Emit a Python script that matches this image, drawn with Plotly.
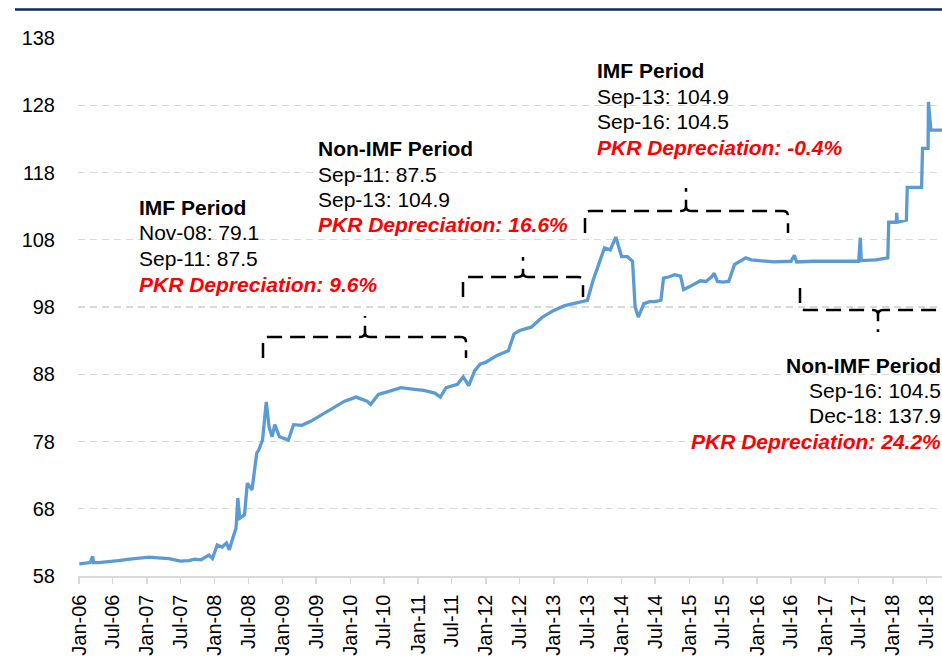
import plotly.graph_objects as go

# ---------------- data ----------------
dates = [
    "2006-01-02", "2006-02-01", "2006-03-01", "2006-03-15", "2006-03-20", "2006-04-15",
    "2006-06-01", "2006-08-01", "2006-10-01", "2006-12-01", "2007-01-15", "2007-03-01",
    "2007-05-01", "2007-07-01", "2007-08-15", "2007-09-15", "2007-10-20", "2007-12-01",
    "2007-12-20", "2008-01-15", "2008-02-10", "2008-03-05", "2008-03-20", "2008-04-05",
    "2008-04-25", "2008-05-05", "2008-05-15", "2008-06-10", "2008-06-25", "2008-07-20",
    "2008-08-15", "2008-08-25", "2008-09-15", "2008-10-05", "2008-10-20", "2008-11-05",
    "2008-11-20", "2008-12-15", "2009-02-01", "2009-03-01", "2009-04-15", "2009-06-01",
    "2009-08-01", "2009-10-01", "2009-12-01", "2010-02-01", "2010-04-01", "2010-04-20",
    "2010-06-01", "2010-08-01", "2010-10-01", "2010-12-01", "2011-02-01", "2011-04-01",
    "2011-05-01", "2011-06-01", "2011-08-01", "2011-09-01", "2011-10-01", "2011-11-01",
    "2011-12-01", "2012-01-01", "2012-03-01", "2012-05-01", "2012-06-01", "2012-07-01",
    "2012-09-01", "2012-11-01", "2013-01-01", "2013-03-01", "2013-05-01", "2013-07-01",
    "2013-08-01", "2013-09-01", "2013-10-01", "2013-11-01", "2013-12-01", "2014-01-01",
    "2014-02-01", "2014-03-01", "2014-03-15", "2014-04-01", "2014-05-01", "2014-06-01",
    "2014-07-01", "2014-08-01", "2014-08-15", "2014-09-15", "2014-10-15", "2014-11-15",
    "2014-12-01", "2015-01-01", "2015-02-01", "2015-03-01", "2015-04-01", "2015-05-01",
    "2015-05-15", "2015-06-01", "2015-07-01", "2015-08-01", "2015-09-01", "2015-10-01",
    "2015-11-01", "2015-12-01", "2016-01-01", "2016-04-01", "2016-07-01", "2016-07-20",
    "2016-08-01", "2016-11-01", "2017-03-01", "2017-07-01", "2017-07-10", "2017-07-15",
    "2017-10-01", "2017-12-05", "2017-12-10", "2018-01-20", "2018-01-22", "2018-01-25",
    "2018-03-15", "2018-03-20", "2018-06-05", "2018-06-10", "2018-07-10", "2018-07-12",
    "2018-07-25", "2018-09-30",
]
pkr_usd = [
    59.8, 59.9, 60.0, 60.9, 60.0, 60.0,
    60.1, 60.3, 60.5, 60.7, 60.8, 60.7,
    60.6, 60.2, 60.3, 60.5, 60.4, 61.1,
    60.6, 62.6, 62.3, 62.9, 61.9, 63.4,
    65.1, 69.6, 66.6, 67.1, 71.8, 70.8,
    76.3, 76.7, 78.2, 83.9, 80.2, 78.7,
    80.5, 78.7, 78.2, 80.5, 80.4, 81.0,
    82.0, 83.0, 84.0, 84.6, 84.0, 83.5,
    85.0, 85.5, 86.0, 85.8, 85.6, 85.2,
    84.6, 86.0, 86.5, 87.6, 86.3, 88.5,
    89.5, 89.8, 90.8, 91.5, 94.0, 94.5,
    95.0, 96.5, 97.5, 98.2, 98.6, 99.0,
    102.0, 104.5, 106.8, 106.5, 108.4, 105.5,
    105.5, 104.8, 98.0, 96.5, 98.5, 98.8,
    98.8, 99.0, 102.3, 102.5, 102.8, 102.6,
    100.6, 101.0, 101.5, 101.9, 101.8, 102.5,
    103.0, 101.8, 101.7, 101.8, 104.3, 104.8,
    105.3, 105.0, 104.9, 104.7, 104.8, 105.7,
    104.7, 104.8, 104.8, 104.8, 108.3, 104.9,
    105.0, 105.3, 110.6, 110.6, 112.0, 110.6,
    110.9, 115.8, 115.8, 121.6, 121.6, 128.5,
    124.3, 124.3,
]
tick_dates = [
    "2006-01-01", "2006-07-01", "2007-01-01", "2007-07-01", "2008-01-01", "2008-07-01",
    "2009-01-01", "2009-07-01", "2010-01-01", "2010-07-01", "2011-01-01", "2011-07-01",
    "2012-01-01", "2012-07-01", "2013-01-01", "2013-07-01", "2014-01-01", "2014-07-01",
    "2015-01-01", "2015-07-01", "2016-01-01", "2016-07-01", "2017-01-01", "2017-07-01",
    "2018-01-01", "2018-07-01",
]
tick_labels = [
    "Jan-06", "Jul-06", "Jan-07", "Jul-07", "Jan-08", "Jul-08",
    "Jan-09", "Jul-09", "Jan-10", "Jul-10", "Jan-11", "Jul-11",
    "Jan-12", "Jul-12", "Jan-13", "Jul-13", "Jan-14", "Jul-14",
    "Jan-15", "Jul-15", "Jan-16", "Jul-16", "Jan-17", "Jul-17",
    "Jan-18", "Jul-18",
]
y_ticks = [58, 68, 78, 88, 98, 108, 118, 128, 138]

period_titles = ["IMF Period", "Non-IMF Period", "IMF Period", "Non-IMF Period"]
period_lines = [
    ["Nov-08: 79.1", "Sep-11: 87.5"],
    ["Sep-11: 87.5", "Sep-13: 104.9"],
    ["Sep-13: 104.9", "Sep-16: 104.5"],
    ["Sep-16: 104.5", "Dec-18: 137.9"],
]
period_depr = ["9.6%", "16.6%", "-0.4%", "24.2%"]

# ---------------- layout geometry ----------------
W, H = 942, 661
L, R, T, B = 78, 0, 38, 85
PW, PH = W - L - R, H - T - B


def px(x):
    return (x - L) / PW


def py(y):
    return (H - B - y) / PH


FONT = "Arial, Liberation Sans, sans-serif"

fig = go.Figure()
fig.add_trace(go.Scatter(
    x=dates, y=pkr_usd, mode="lines",
    line=dict(color="#5B9BD5", width=3.3), hoverinfo="skip", showlegend=False,
))

fig.update_layout(
    width=W, height=H,
    margin=dict(l=L, r=R, t=T, b=B, pad=0),
    paper_bgcolor="white", plot_bgcolor="white",
    showlegend=False,
    font=dict(family=FONT, size=20, color="black"),
)
fig.update_xaxes(
    type="date",
    range=["2005-12-26", "2018-09-23"],
    tickmode="array", tickvals=tick_dates, ticktext=tick_labels,
    tickangle=-90, tickfont=dict(family=FONT, size=20, color="black"),
    showgrid=False, zeroline=False,
    showline=True, linecolor="#d9d9d9", linewidth=1.5,
    ticks="outside", ticklen=6, tickcolor="#d9d9d9", tickwidth=1.5,
    ticklabelstandoff=3,
)
fig.update_yaxes(
    range=[58, 138],
    tickmode="array", tickvals=y_ticks,
    tickfont=dict(family=FONT, size=20, color="black"),
    showgrid=True, gridcolor="#d9d9d9", gridwidth=1.2, griddash="7px,5px",
    zeroline=False, showline=False, ticks="",
    ticklabelstandoff=22,
)

# ---------------- decorations ----------------
shapes = []
# header rule
shapes.append(dict(type="line", xref="paper", yref="paper",
                   x0=px(15), x1=px(942), y0=py(9.5), y1=py(9.5),
                   line=dict(color="#0d2a5c", width=2.5)))


def brace(x0, x1, xm, yh, yend, ytip, r=5):
    d = 1 if yend > yh else -1
    p = (f"M {px(x0)},{py(yend)} L {px(x0)},{py(yh + d * r)} "
         f"Q {px(x0)},{py(yh)} {px(x0 + r)},{py(yh)} "
         f"L {px(xm - r)},{py(yh)} Q {px(xm)},{py(yh)} {px(xm)},{py(yh - d * r)} "
         f"L {px(xm)},{py(ytip)} "
         f"M {px(xm)},{py(yh - d * r)} Q {px(xm)},{py(yh)} {px(xm + r)},{py(yh)} "
         f"L {px(x1 - r)},{py(yh)} Q {px(x1)},{py(yh)} {px(x1)},{py(yh + d * r)} "
         f"L {px(x1)},{py(yend)}")
    return dict(type="path", xref="paper", yref="paper", path=p,
                line=dict(color="black", width=2.5, dash="15px,8px"))


shapes.append(brace(263, 466, 365, 337, 358, 316))
shapes.append(brace(463, 583, 523, 277, 297, 257))
shapes.append(brace(585, 788, 686, 211, 233, 188))
shapes.append(brace(800, 1010, 878, 310, 288, 332))
fig.update_layout(shapes=shapes)

# annotation text blocks: (x pixel, anchor, [y centers])
blocks = [
    (137, "left", [207.5, 232, 258, 284]),
    (316, "left", [148.5, 174, 200, 225]),
    (595, "left", [70.5, 96.5, 121.5, 147]),
    (943, "right", [365, 390, 416, 441]),
]
annotations = []
for i, (xp, anchor, ys) in enumerate(blocks):
    texts = ([f"<b>{period_titles[i]}</b>"] + period_lines[i]
             + [f"<b><i>PKR Depreciation: {period_depr[i]}</i></b>"])
    colors = ["black", "black", "black", "#FF0000"]
    for t, yy, c in zip(texts, ys, colors):
        annotations.append(dict(
            xref="paper", yref="paper", x=px(xp), y=py(yy),
            xanchor=anchor, yanchor="middle", text=t, showarrow=False,
            font=dict(family=FONT, size=21, color=c),
        ))
fig.update_layout(annotations=annotations)

fig.write_html(
    "out.html",
    config={"displayModeBar": False, "staticPlot": True},
    post_script="document.body.style.margin='0';document.body.style.overflow='hidden';"
                "document.documentElement.style.overflow='hidden';",
)
